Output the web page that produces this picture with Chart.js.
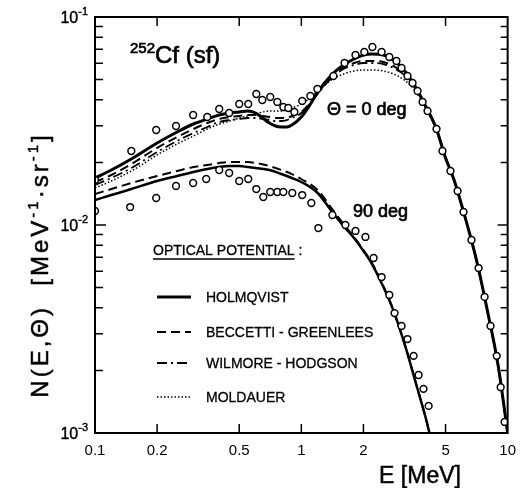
<!DOCTYPE html>
<html>
<head>
<meta charset="utf-8">
<script src="https://cdn.jsdelivr.net/npm/chart.js@4.4.0/dist/chart.umd.min.js"></script>
<style>
  html, body { margin: 0; padding: 0; background: #fff; }
</style>
</head>
<body>
<canvas id="chart" width="525" height="488"></canvas>
<script>
// Energy grid of the calculated curves (MeV)
const curveE0 = [0.1, 0.12, 0.15, 0.2, 0.25, 0.3, 0.35, 0.4, 0.45, 0.5, 0.55, 0.6, 0.65, 0.7, 0.75, 0.8, 0.85, 0.9, 1.0, 1.1, 1.2, 1.4, 1.6, 1.8, 2.0, 2.2, 2.5, 2.8, 3.2, 3.6, 4, 4.5, 5, 5.5, 6, 7, 8, 9, 10];
const curveE90 = [0.1, 0.12, 0.15, 0.2, 0.25, 0.3, 0.35, 0.4, 0.45, 0.5, 0.55, 0.6, 0.7, 0.8, 0.9, 1.0, 1.2, 1.4, 1.6, 1.8, 2.0, 2.2, 2.5, 2.8, 3.2, 3.6, 4.0, 4.18];

// Theta = 0 deg calculations
const holmqvist0 = [.01683, .01838, .02076, .02479, .02800, .03059, .03233, .03379, .03455, .03493, .03532, .03455, .03269, .03093, .02992, .02959, .02959, .03025, .03305, .03775, .04358, .05262, .05876, .06280, .06567, .06640, .06567, .06211, .05439, .04557, .03733, .02926, .02099, .01646, .01234, .00702, .00382, .00210, .00100];
const beccetti0 = [.01610, .01739, .01965, .02346, .02650, .02894, .03093, .03233, .03305, .03342, .03379, .03379, .03342, .03305, .03269, .03269, .03269, .03342, .03493, .03859, .04311, .05147, .05685, .06008, .06143, .06143, .06076, .05812, .05262, .04507, .03733, .02926, .02123, .01646, .01234, .00702, .00382, .00208, .00100];
const wilmore0 = [.01557, .01683, .01879, .02244, .02535, .02769, .02959, .03128, .03197, .03233, .03269, .03269, .03233, .03197, .03162, .03162, .03197, .03269, .03455, .03817, .04263, .05090, .05623, .05876, .06008, .06008, .05942, .05685, .05204, .04457, .03692, .02926, .02123, .01646, .01234, .00702, .00382, .00208, .00100];
const moldauer0 = [.01506, .01628, .01818, .02171, .02452, .02679, .02894, .03059, .03162, .03269, .03342, .03417, .03493, .03532, .03532, .03532, .03571, .03651, .03817, .04080, .04408, .04979, .05321, .05500, .05561, .05561, .05500, .05321, .04924, .04358, .03651, .02894, .02099, .01646, .01234, .00702, .00382, .00208, .00100];

// Theta = 90 deg calculations
const holmqvist90 = [.01319, .01393, .01489, .01628, .01720, .01798, .01858, .01900, .01921, .01921, .01900, .01879, .01838, .01758, .01683, .01610, .01425, .01168, .00989, .00866, .00750, .00649, .00503, .00386, .00259, .00172, .00119, .00100];
const beccetti90 = [.01409, .01489, .01592, .01720, .01818, .01900, .01943, .01987, .02009, .02009, .02009, .01987, .01921, .01838, .01758, .01664, .01473, .01207, .01011, .00876, .00758, .00657, .00509, .00386, .00259, .00172, .00119, .00100];

// Measured points
const exp0E = [0.1, 0.15, 0.198, 0.247, 0.299, 0.35, 0.40, 0.447, 0.50, 0.553, 0.605, 0.647, 0.707, 0.765, 0.818, 0.865, 0.925, 1.01, 1.106, 1.196, 1.43, 1.62, 1.83, 2.02, 2.21, 2.45, 2.67, 2.89, 3.06, 3.27, 3.46, 3.66, 3.87, 4.09, 4.52, 4.83, 5.28, 5.72, 6.11, 6.68, 7.23, 7.73, 8.26, 8.85, 9.25, 9.67];
const exp0N = [.01646, .02269, .02862, .02992, .03379, .03305, .03611, .03455, .03817, .03817, .04263, .03990, .04124, .03904, .03692, .03651, .03493, .03948, .04170, .04507, .05204, .06008, .06567, .06788, .07176, .06788, .06421, .06143, .05685, .05204, .04816, .04408, .03904, .03532, .02894, .02269, .01818, .01457, .01155, .00847, .00621, .00451, .00327, .00235, .00166, .00113];
const exp90E = [0.1, 0.148, 0.198, 0.247, 0.299, 0.346, 0.40, 0.447, 0.50, 0.553, 0.605, 0.654, 0.707, 0.765, 0.818, 0.904, 1.01, 1.118, 1.209, 1.414, 1.635, 1.83, 2.045, 2.24, 2.45, 2.67, 2.83, 3.06, 3.27, 3.50, 3.70, 3.91, 4.14];
const exp90N = [.01168, .01220, .01348, .01540, .01592, .01664, .01838, .01778, .01628, .01664, .01489, .01363, .01441, .01441, .01441, .01425, .01393, .01276, .00967, .01117, .01000, .00936, .00876, .00694, .00562, .00461, .00377, .00327, .00283, .00235, .00190, .00163, .00135];

// Axis ticks
const xTicks = [0.1, 0.2, 0.5, 1, 2, 5, 10];
const yDecades = [0.001, 0.01, 0.1];

const FONT = '"Liberation Sans", Arial, sans-serif';

const pts = (xs, ys) => xs.map((v, i) => ({ x: v, y: ys[i] }));

function curve(xs, ys, dash, width) {
    return {
        data: pts(xs, ys),
        showLine: true,
        borderColor: '#000',
        borderWidth: width,
        borderDash: dash,
        pointRadius: 0,
        cubicInterpolationMode: 'monotone',
        fill: false
    };
}

function marks(xs, ys) {
    return {
        data: pts(xs, ys),
        showLine: false,
        pointRadius: 3.4,
        pointBorderWidth: 1.5,
        pointBorderColor: '#000',
        pointBackgroundColor: '#fff'
    };
}

const SOLID = [], DASH = [9, 5], DASHDOT = [10, 4, 2, 4], DOT = [1.5, 2];

// draw text made of runs [text, size, raise]; a thin stroke mimics the heavy print
function drawRuns(ctx, x, y, runs, align, heavy) {
    let w = 0;
    runs.forEach(r => { ctx.font = r[1] + 'px ' + FONT; w += ctx.measureText(r[0]).width; });
    let cx = align === 'center' ? x - w / 2 : align === 'right' ? x - w : x;
    runs.forEach(r => {
        ctx.font = r[1] + 'px ' + FONT;
        ctx.fillText(r[0], cx, y - (r[2] || 0));
        if (heavy) {
            ctx.lineWidth = heavy;
            ctx.strokeText(r[0], cx, y - (r[2] || 0));
        }
        cx += ctx.measureText(r[0]).width;
    });
    return w;
}

const paperPlugin = {
    id: 'paper',
    afterDraw(chart) {
        const { ctx, chartArea: a, scales: { x, y } } = chart;
        ctx.save();
        ctx.strokeStyle = '#000';
        ctx.fillStyle = '#000';
        ctx.textAlign = 'left';
        ctx.textBaseline = 'alphabetic';

        // frame
        ctx.lineWidth = 2;
        ctx.setLineDash([]);
        ctx.strokeRect(a.left, a.top, a.right - a.left, a.bottom - a.top);

        // inward ticks
        ctx.lineWidth = 1.5;
        ctx.beginPath();
        xTicks.slice(1, -1).forEach(v => {
            const px = x.getPixelForValue(v);
            ctx.moveTo(px, a.top); ctx.lineTo(px, a.top + 9);
            ctx.moveTo(px, a.bottom); ctx.lineTo(px, a.bottom - 9);
        });
        yDecades.slice(0, -1).forEach(d => {
            for (let m = 2; m <= 9; m++) {
                const py = y.getPixelForValue(d * m);
                ctx.moveTo(a.left, py); ctx.lineTo(a.left + 8, py);
                ctx.moveTo(a.right, py); ctx.lineTo(a.right - 7, py);
            }
        });
        const p2 = y.getPixelForValue(0.01);
        ctx.moveTo(a.left, p2); ctx.lineTo(a.left + 11, p2);
        ctx.moveTo(a.right, p2); ctx.lineTo(a.right - 10, p2);
        ctx.stroke();

        // y tick labels 10^-n
        yDecades.forEach(d => {
            const py = y.getPixelForValue(d);
            const n = Math.round(-Math.log10(d));
            drawRuns(ctx, 88, py + 6, [['10', 16, 0], ['-' + n, 11, 8]], 'right', 0.4);
        });

        // axis titles
        drawRuns(ctx, 420, 483, [['E [MeV]', 23, 0]], 'center', 0.5);
        ctx.save();
        ctx.translate(48, 265);
        ctx.rotate(-Math.PI / 2);
        ctx.letterSpacing = '3px';
        drawRuns(ctx, 0, 0, [['N(E,\u0398)  [MeV', 24, 0], ['-1', 15, 10], ['\u00b7sr', 24, 0], ['-1', 15, 10], [']', 24, 0]], 'center', 0.5);
        ctx.restore();

        // annotations
        drawRuns(ctx, 130, 63, [['252', 15, 10], ['Cf (sf)', 24, 0]], 'left', 0.7);
        drawRuns(ctx, 327, 115, [['\u0398 = 0 deg', 18, 0]], 'left', 0.7);
        drawRuns(ctx, 353, 217, [['90 deg', 18, 0]], 'left', 0.7);

        // legend
        const w = drawRuns(ctx, 153, 255, [['OPTICAL POTENTIAL', 14, 0]], 'left', 0.3);
        drawRuns(ctx, 153 + w + 4, 255, [[':', 14, 0]], 'left', 0.3);
        ctx.lineWidth = 1.5;
        ctx.beginPath(); ctx.moveTo(153, 259); ctx.lineTo(153 + w, 259); ctx.stroke();

        const legend = [
            ['HOLMQVIST', SOLID, 3, 297],
            ['BECCETTI - GREENLEES', DASH, 2, 332],
            ['WILMORE - HODGSON', DASHDOT, 2, 363],
            ['MOLDAUER', DOT, 1.5, 397]
        ];
        legend.forEach(l => {
            ctx.setLineDash(l[1]);
            ctx.lineWidth = l[2];
            ctx.beginPath(); ctx.moveTo(157, l[3]); ctx.lineTo(191, l[3]); ctx.stroke();
            ctx.setLineDash([]);
            drawRuns(ctx, 206, l[3] + 5, [[l[0], 14, 0]], 'left', 0.3);
        });
        ctx.restore();
    }
};

new Chart(document.getElementById('chart'), {
    type: 'scatter',
    data: {
        datasets: [
            marks(exp0E, exp0N),
            marks(exp90E, exp90N),
            curve(curveE0, holmqvist0, SOLID, 3),
            curve(curveE0, beccetti0, DASH, 2),
            curve(curveE0, wilmore0, DASHDOT, 1.8),
            curve(curveE0, moldauer0, DOT, 1.5),
            curve(curveE90, holmqvist90, SOLID, 2.5),
            curve(curveE90, beccetti90, DASH, 2)
        ]
    },
    options: {
        responsive: false,
        animation: false,
        layout: { padding: { left: 0, top: 17, right: 17, bottom: 0 } },
        plugins: { legend: { display: false }, tooltip: { enabled: false } },
        scales: {
            x: {
                type: 'logarithmic',
                min: 0.1,
                max: 10,
                border: { display: false },
                grid: { display: false, drawTicks: false },
                afterBuildTicks: scale => { scale.ticks = xTicks.map(v => ({ value: v })); },
                afterFit: scale => { scale.height = 55; },
                ticks: {
                    autoSkip: false,
                    maxRotation: 0,
                    padding: 9,
                    color: '#000',
                    font: { family: FONT, size: 15 },
                    callback: v => String(v)
                }
            },
            y: {
                type: 'logarithmic',
                min: 0.001,
                max: 0.1,
                border: { display: false },
                grid: { display: false, drawTicks: false },
                afterFit: scale => { scale.width = 95; },
                ticks: { display: false }
            }
        }
    },
    plugins: [paperPlugin]
});
</script>
</body>
</html>
